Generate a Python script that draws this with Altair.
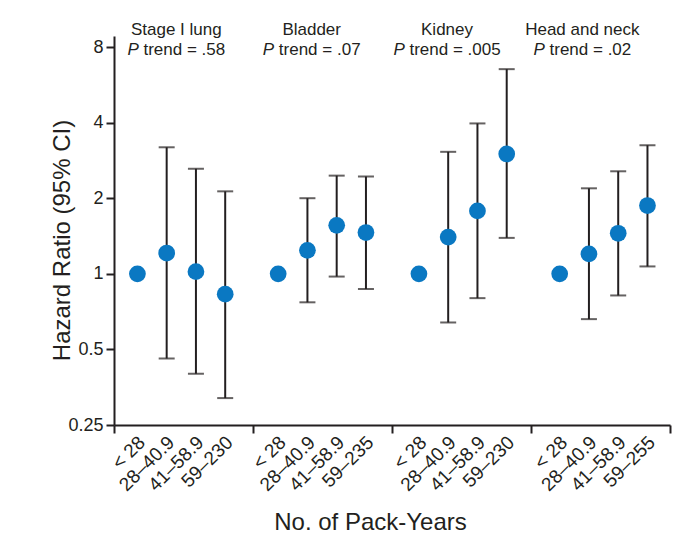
import altair as alt
import pandas as pd
import numpy as np

# ---- data ----
groups = ["Stage I lung", "Bladder", "Kidney", "Head and neck"]
p_trends = [".58", ".07", ".005", ".02"]
pack_years = [
    ["< 28", "28\u201340.9", "41\u201358.9", "59\u2013230"],
    ["< 28", "28\u201340.9", "41\u201358.9", "59\u2013235"],
    ["< 28", "28\u201340.9", "41\u201358.9", "59\u2013230"],
    ["< 28", "28\u201340.9", "41\u201358.9", "59\u2013255"],
]
hr = [
    [1.0, 1.21, 1.02, 0.83],
    [1.0, 1.24, 1.56, 1.46],
    [1.0, 1.40, 1.78, 3.0],
    [1.0, 1.20, 1.45, 1.87],
]
ci_low = [
    [None, 0.46, 0.40, 0.32],
    [None, 0.77, 0.975, 0.87],
    [None, 0.64, 0.80, 1.39],
    [None, 0.66, 0.82, 1.07],
]
ci_high = [
    [None, 3.19, 2.62, 2.13],
    [None, 2.00, 2.46, 2.44],
    [None, 3.06, 3.97, 6.53],
    [None, 2.19, 2.56, 3.25],
]
y_ticks = [0.25, 0.5, 1, 2, 4, 8]

# ---- layout helpers (x units along a shared linear scale) ----
GROUP_W = 4.75      # width of one group between boundary ticks
POINT_PERIOD = 4.81 # period of point positions from group to group
FIRST = 0.8         # offset of the first point in a group
X_MAX = 19.0
Y_MIN, Y_MAX = 0.25, 8.85
W, H = 556, 389
UNIT_PX = W / X_MAX

rows = []
for g, grp in enumerate(groups):
    for i, lab in enumerate(pack_years[g]):
        rows.append({
            "group": grp,
            "label": lab,
            "pos": round(POINT_PERIOD * g + FIRST + i, 2),
            "hr": hr[g][i],
            "lo": ci_low[g][i] if ci_low[g][i] is not None else np.nan,
            "hi": ci_high[g][i] if ci_high[g][i] is not None else np.nan,
        })
df = pd.DataFrame(rows)
df_ci = df.dropna(subset=["lo", "hi"])

bounds = [round(GROUP_W * g, 2) for g in range(len(groups) + 1)]
point_pos = df["pos"].tolist()
axis_values = sorted(bounds + point_pos)

# approximate Arial advance widths (em) for centring the "P trend" lines
CW = {"P": 0.667, " ": 0.278, "t": 0.278, "r": 0.333, "e": 0.556, "n": 0.556,
      "d": 0.556, "=": 0.584, ".": 0.278}
def text_w(s, size):
    return sum(CW.get(c, 0.556) for c in s) * size

FS_GROUP = 17
lab_rows = []
for g, grp in enumerate(groups):
    center = 2.13 + 4.625 * g
    rest = "trend = " + p_trends[g]
    total = text_w("P " + rest, FS_GROUP)
    p_left = center - (total / 2) / UNIT_PX
    rest_left = p_left + text_w("P ", FS_GROUP) / UNIT_PX
    lab_rows.append({"name": grp, "cx": center, "px": p_left, "rx": rest_left,
                     "rest": rest, "ytop": Y_MAX})
labdf = pd.DataFrame(lab_rows)

FONT = "Liberation Sans"
INK = "#231f20"
BLUE = "#0a78c2"

pos_js = "[" + ",".join(repr(p) for p in point_pos) + "]"
lab_js = "[" + ",".join("'" + l + "'" for l in df["label"]) + "]"
bnd_js = "[" + ",".join(repr(b) for b in bounds) + "]"

x_scale = alt.Scale(domain=[0, X_MAX], nice=False, zero=False)
y_scale = alt.Scale(type="log", domain=[Y_MIN, Y_MAX], nice=False)

x_axis = alt.Axis(
    values=axis_values,
    labelExpr=f"indexof({pos_js}, datum.value) >= 0 ? {lab_js}[indexof({pos_js}, datum.value)] : ''",
    tickOpacity={"condition": {"test": f"indexof({bnd_js}, datum.value) >= 0", "value": 1}, "value": 0},
    tickSize=8, tickWidth=2, tickColor=INK,
    labelAngle=-45, labelAlign="right", labelBaseline="middle",
    labelPadding=6, labelOffset=4, labelFontSize=19, labelFont=FONT, labelColor=INK,
    labelOverlap=False, labelBound=False, labelFlush=False,
    domainColor=INK, domainWidth=2,
    grid=False,
    title="No. of Pack-Years", titleFont=FONT, titleFontSize=24,
    titleFontWeight="normal", titleColor=INK,
    titleX=256, titleY=104, titleBaseline="alphabetic", titleAlign="center",
)
y_axis = alt.Axis(
    values=y_ticks, format="~g",
    tickSize=8, tickWidth=2, tickColor=INK,
    labelPadding=3, labelFontSize=18, labelFont=FONT, labelColor=INK,
    labelOverlap=False,
    domainColor=INK, domainWidth=2, grid=False,
    title="Hazard Ratio (95% CI)", titleFont=FONT, titleFontSize=24,
    titleFontWeight="normal", titleColor=INK,
    titleX=-40, titleY=204, titleAngle=-90, titleBaseline="bottom",
    titleAlign="center",
)

X = alt.X("pos:Q", scale=x_scale, axis=x_axis)

bars = alt.Chart(df_ci).mark_rule(color=INK, strokeWidth=2).encode(
    x=X,
    y=alt.Y("lo:Q", scale=y_scale, axis=y_axis),
    y2="hi:Q",
)
cap_hi = alt.Chart(df_ci).mark_tick(color=INK, orient="horizontal", size=16, thickness=2).encode(
    x=X, y=alt.Y("hi:Q", scale=y_scale, axis=y_axis))
cap_lo = alt.Chart(df_ci).mark_tick(color=INK, orient="horizontal", size=16, thickness=2).encode(
    x=X, y=alt.Y("lo:Q", scale=y_scale, axis=y_axis))
pts = alt.Chart(df).mark_circle(color=BLUE, opacity=1, size=280).encode(
    x=X,
    y=alt.Y("hr:Q", scale=y_scale, axis=y_axis),
)

lab = alt.Chart(labdf)
name_txt = lab.mark_text(font=FONT, fontSize=FS_GROUP, color=INK, align="center",
                         baseline="alphabetic", dy=-1).encode(
    x=alt.X("cx:Q", scale=x_scale, axis=x_axis),
    y=alt.Y("ytop:Q", scale=y_scale, axis=y_axis), text="name:N")
p_txt = lab.mark_text(font=FONT, fontSize=FS_GROUP, color=INK, align="left",
                      baseline="alphabetic", fontStyle="italic", dy=19).encode(
    x=alt.X("px:Q", scale=x_scale, axis=x_axis),
    y=alt.Y("ytop:Q", scale=y_scale, axis=y_axis), text=alt.value("P"))
rest_txt = lab.mark_text(font=FONT, fontSize=FS_GROUP, color=INK, align="left",
                         baseline="alphabetic", dy=19).encode(
    x=alt.X("rx:Q", scale=x_scale, axis=x_axis),
    y=alt.Y("ytop:Q", scale=y_scale, axis=y_axis), text="rest:N")

chart = alt.layer(bars, cap_hi, cap_lo, pts, name_txt, p_txt, rest_txt).properties(
    width=W, height=H,
    autosize=alt.AutoSizeParams(type="none"),
    padding={"left": 106, "top": 28, "right": 14, "bottom": 122},
    background="white",
).configure_view(stroke=None).configure_axis(labelOverlap=False)

chart.save("out.html", embed_options={"renderer": "svg", "actions": False})
